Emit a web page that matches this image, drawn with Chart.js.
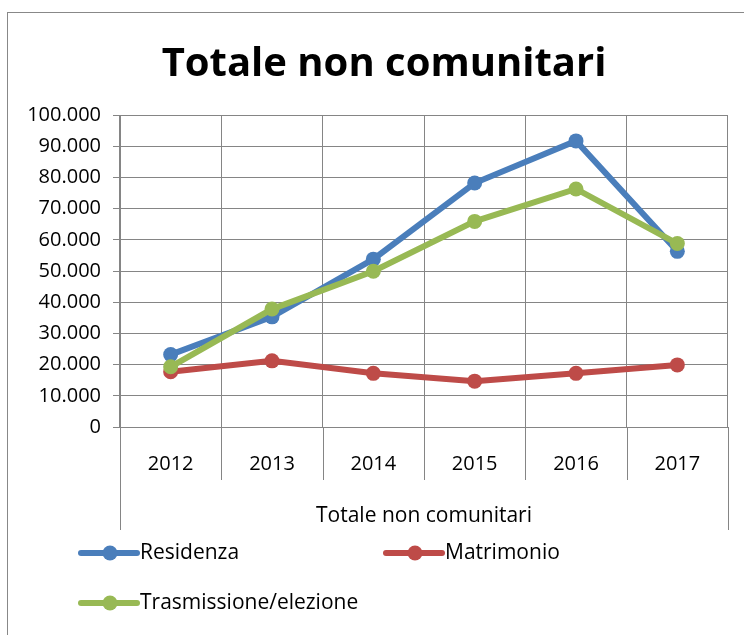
<!DOCTYPE html>
<html>
<head>
<meta charset="utf-8">
<script src="https://cdn.jsdelivr.net/npm/chart.js@4.4.1/dist/chart.umd.min.js"></script>
<style>
html, body { margin: 0; padding: 0; background: #fff; overflow: hidden; width: 744px; height: 635px; }
#wrap { position: absolute; left: 7px; top: 12px; width: 752px; height: 640px; border-left: 1px solid #888; border-top: 1px solid #888; }
</style>
</head>
<body>
<div id="wrap"><canvas id="chart" width="752" height="640"></canvas></div>
<script>
var years = ['2012', '2013', '2014', '2015', '2016', '2017'];
var residenza = [23200, 35300, 53800, 78200, 91700, 56300];
var matrimonio = [17700, 21200, 17200, 14700, 17200, 19900];
var trasmissione = [19300, 37800, 49900, 65900, 76300, 58800];
var groupLabel = 'Totale non comunitari';

var FONT = 'Open Sans';
var BLUE = '#4a7ebb', RED = '#be4b48', GREEN = '#98b954';
var GRID = '#858585';

function fmt(v) {
    return v.toString().replace(/\B(?=(\d{3})+(?!\d))/g, '.');
}

// title, category separators below the axis, group label and legend
var extras = {
    id: 'extras',
    afterDraw: function(chart) {
        var c = chart.ctx, a = chart.chartArea;
        var step = (a.right - a.left) / years.length;
        c.save();
        c.fillStyle = '#000';
        c.font = 'bold 40px "' + FONT + '"';
        c.textAlign = 'center';
        c.textBaseline = 'middle';
        c.fillText(groupLabel, 376, 52);

        c.strokeStyle = GRID;
        c.lineWidth = 1;
        for (var i = 0; i <= years.length; i++) {
            var px = Math.round(a.left + i * step) + 0.5;
            var end = (i === 0 || i === years.length) ? a.bottom + 103 : a.bottom + 53;
            c.beginPath();
            c.moveTo(px, a.bottom);
            c.lineTo(px, end);
            c.stroke();
        }
        c.font = '21px "' + FONT + '"';
        c.fillText(groupLabel, (a.left + a.right) / 2, a.bottom + 89);

        var items = [
            { label: 'Residenza', color: BLUE, x: 72, y: 540 },
            { label: 'Matrimonio', color: RED, x: 377, y: 540 },
            { label: 'Trasmissione/elezione', color: GREEN, x: 72, y: 590 }
        ];
        items.forEach(function(it) {
            c.strokeStyle = it.color;
            c.fillStyle = it.color;
            c.lineWidth = 6;
            c.lineCap = 'round';
            c.beginPath();
            c.moveTo(it.x + 1, it.y);
            c.lineTo(it.x + 57, it.y);
            c.stroke();
            c.beginPath();
            c.arc(it.x + 30, it.y, 7.5, 0, Math.PI * 2);
            c.fill();
            c.fillStyle = '#000';
            c.textAlign = 'left';
            c.fillText(it.label, it.x + 60, it.y);
        });
        c.restore();
    }
};

function line(label, data, color, order) {
    return {
        label: label,
        data: data,
        borderColor: color,
        backgroundColor: color,
        borderWidth: 6,
        pointRadius: 7.5,
        pointHoverRadius: 7.5,
        pointBorderWidth: 0,
        tension: 0,
        order: order
    };
}

var ctx = document.getElementById('chart').getContext('2d');
var chart = new Chart(ctx, {
    type: 'line',
    data: {
        labels: years,
        datasets: [
            line('Residenza', residenza, BLUE, 3),
            line('Matrimonio', matrimonio, RED, 2),
            line('Trasmissione/elezione', trasmissione, GREEN, 1)
        ]
    },
    options: {
        responsive: false,
        animation: false,
        layout: { padding: { left: 0, right: 32, top: 102, bottom: 0 } },
        plugins: {
            legend: { display: false },
            tooltip: { enabled: false },
            title: { display: false }
        },
        scales: {
            x: {
                offset: true,
                grid: { display: true, color: GRID, drawTicks: false, offset: true },
                border: { display: false },
                ticks: { color: '#000', font: { family: FONT, size: 20 }, padding: 25, maxRotation: 0 },
                afterFit: function(s) { s.height = 226; }
            },
            y: {
                min: 0,
                max: 100000,
                ticks: {
                    stepSize: 10000,
                    color: '#000',
                    font: { family: FONT, size: 20 },
                    padding: 12,
                    callback: function(v) { return fmt(v); }
                },
                grid: { color: GRID, tickLength: 7, drawTicks: true },
                border: { display: true, color: GRID },
                afterFit: function(s) { s.width = 112; }
            }
        }
    },
    plugins: [extras]
});
</script>
</body>
</html>
